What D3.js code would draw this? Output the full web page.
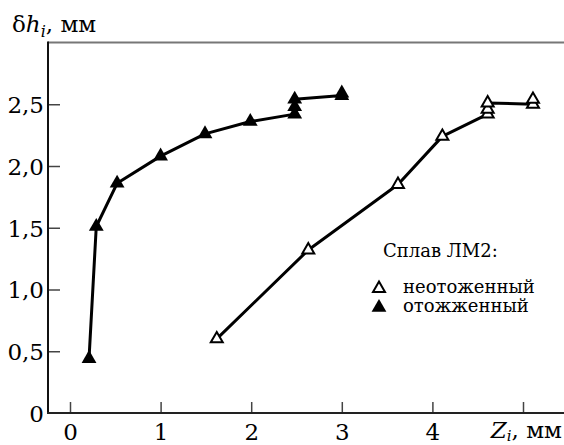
<!DOCTYPE html>
<html>
<head>
<meta charset="utf-8">
<script src="https://cdn.jsdelivr.net/npm/d3@7"></script>
<style>
	body { margin: 0; background: #fff; }
	svg { display: block; }
	svg text { font-family: "DejaVu Serif", "Liberation Serif", serif; }
</style>
</head>
<body>
<svg id="chart" width="564" height="445"></svg>
<script>
// data (Z_i, mm -> delta h_i, mm)
var annealedZ  = [0.21, 0.29, 0.52, 1.00, 1.49, 1.99, 2.48, 2.48, 2.48, 3.00, 3.00];
var annealedH  = [0.44, 1.51, 1.86, 2.08, 2.26, 2.36, 2.42, 2.48, 2.54, 2.57, 2.59];
var rawZ       = [1.62, 2.63, 3.62, 4.11, 4.61, 4.61, 4.61, 5.11, 5.11];
var rawH       = [0.60, 1.32, 1.85, 2.24, 2.42, 2.46, 2.51, 2.50, 2.54];

var xTicks = [0, 1, 2, 3, 4, 5];
var yTicks = [0, 0.5, 1, 1.5, 2, 2.5];
var legendTitle = "Сплав ЛМ2:";
var legendNames = ["неотоженный", "отожженный"];

var PLOT_L = 48, PLOT_T = 42.5, PLOT_B = 413, PLOT_R = 564;
var TICK_LEN = 12;
var FONT = '"DejaVu Serif", "Liberation Serif", serif';

var svg = d3.select("#chart");

var x = d3.scaleLinear().domain([0, 1]).range([70, 160.6]);
var y = d3.scaleLinear().domain([0, 3]).range([PLOT_B, PLOT_T]);

var ru = d3.formatLocale({decimal: ",", thousands: " ", grouping: [3], currency: ["", ""]});
var fmt1 = ru.format(".1f");

// axes (ticks inward, domain drawn by hand)
var yAxis = svg.append("g")
	.attr("transform", "translate(" + PLOT_L + ",0)")
	.call(d3.axisLeft(y).tickValues(yTicks).tickSize(-TICK_LEN).tickPadding(4)
		.tickFormat(function(d) { return d === 0 ? "0" : fmt1(d); }));

var xAxis = svg.append("g")
	.attr("transform", "translate(0," + PLOT_B + ")")
	.call(d3.axisBottom(x).tickValues(xTicks).tickSize(-TICK_LEN + 1).tickPadding(10)
		.tickFormat(function(d) { return d === 5 ? "" : d; }));

[yAxis, xAxis].forEach(function(g) {
	g.attr("font-family", FONT).attr("font-size", 23);
	g.select(".domain").remove();
	g.selectAll(".tick line").attr("stroke", "#444").attr("stroke-width", 1.5);
	g.selectAll(".tick text").attr("fill", "#000");
});
yAxis.selectAll(".tick").filter(function(d) { return d === 0; }).select("line").remove();
yAxis.selectAll(".tick text").attr("dy", "0.36em");
xAxis.selectAll(".tick text").attr("dy", "0.72em");

// frame: left, top, bottom
svg.append("line").attr("x1", PLOT_L).attr("x2", PLOT_R).attr("y1", PLOT_T).attr("y2", PLOT_T)
	.attr("stroke", "#777").attr("stroke-width", 2);
svg.append("line").attr("x1", PLOT_L).attr("x2", PLOT_L).attr("y1", PLOT_T - 1).attr("y2", PLOT_B + 1)
	.attr("stroke", "#111").attr("stroke-width", 2);
svg.append("line").attr("x1", PLOT_L - 1).attr("x2", PLOT_R).attr("y1", PLOT_B).attr("y2", PLOT_B)
	.attr("stroke", "#222").attr("stroke-width", 2);

// axis titles
var yt = svg.append("text").attr("x", 12).attr("y", 32).attr("font-size", 23);
yt.append("tspan").text("δ");
yt.append("tspan").attr("font-style", "italic").text("h");
yt.append("tspan").attr("font-style", "italic").attr("font-size", 16).attr("dy", 5).text("i");
yt.append("tspan").attr("dy", -5).text(", мм");

var xt = svg.append("text").attr("x", 562).attr("y", 438).attr("font-size", 23)
	.attr("text-anchor", "end");
xt.append("tspan").attr("font-style", "italic").text("Z");
xt.append("tspan").attr("font-style", "italic").attr("font-size", 15).attr("dy", 3).text("i");
xt.append("tspan").attr("dy", -3).text(", мм");

// series
function pts(xs, ys) { return xs.map(function(v, i) { return [v, ys[i]]; }); }
var line = d3.line().x(function(d) { return x(d[0]); }).y(function(d) { return y(d[1]); });
var tri = d3.symbol().type(d3.symbolTriangle);

var series = [
	{data: pts(rawZ, rawH), fill: "#fff", size: 62, sw: 2},
	{data: pts(annealedZ, annealedH), fill: "#000", size: 95, sw: 0}
];

series.forEach(function(s) {
	svg.append("path").datum(s.data).attr("d", line)
		.attr("fill", "none").attr("stroke", "#000").attr("stroke-width", 3)
		.attr("stroke-linejoin", "round");
	svg.append("g").selectAll("path").data(s.data).join("path")
		.attr("transform", function(d) { return "translate(" + x(d[0]) + "," + y(d[1]) + ")"; })
		.attr("d", tri.size(s.size)())
		.attr("fill", s.fill).attr("stroke", "#000").attr("stroke-width", s.sw);
});

// legend
var lg = svg.append("g").attr("font-size", 18);
lg.append("text").attr("x", 383).attr("y", 257).text(legendTitle);
legendNames.forEach(function(name, i) {
	var s = series[i];
	var cy = 288.5 + i * 19;
	lg.append("path").attr("transform", "translate(379," + cy + ")")
		.attr("d", tri.size(s.size)())
		.attr("fill", s.fill).attr("stroke", "#000").attr("stroke-width", s.sw);
	lg.append("text").attr("x", 403).attr("y", cy + 4.5).text(name);
});
</script>
</body>
</html>
